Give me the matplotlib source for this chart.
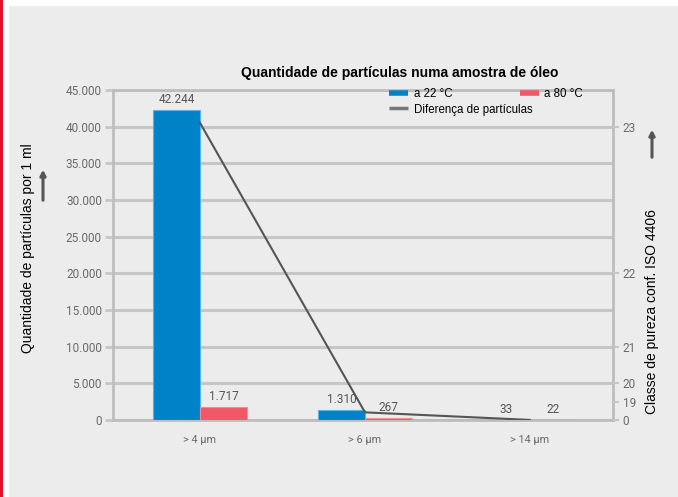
import matplotlib
matplotlib.use("Agg")
import matplotlib.pyplot as plt
from matplotlib.lines import Line2D
from matplotlib.patches import Rectangle, FancyArrowPatch

# Data
categories = ["> 4 µm", "> 6 µm", "> 14 µm"]
at_22 = [42244, 1310, 33]
at_80 = [1717, 267, 22]
difference = [a - b for a, b in zip(at_22, at_80)]

left_ticks = list(range(0, 45001, 5000))
iso_positions = [0, 2500, 5000, 10000, 20000, 40000]
iso_labels = ["0", "19", "20", "21", "22", "23"]

BLUE = "#0082c8"
RED = "#f05868"
LINE = "#555555"
GRID = "#c6c6c6"
TICKTXT = "#6a6a6a"

W, H = 678, 497
fig = plt.figure(figsize=(W / 100, H / 100), dpi=100)
fig.patch.set_facecolor("white")

# panel background and red edge
fig.add_artist(Rectangle((9 / W, 0), 1 - 9 / W, 1 - 6 / H, transform=fig.transFigure,
                         facecolor="#ececec", edgecolor="none", zorder=-10))
fig.add_artist(Rectangle((0, 0), 2.5 / W, 1, transform=fig.transFigure,
                         facecolor="#e3122c", edgecolor="none", zorder=-9))

ax_l, ax_r, ax_t, ax_b = 113, 613, 90, 420
ax = fig.add_axes([ax_l / W, 1 - ax_b / H, (ax_r - ax_l) / W, (ax_b - ax_t) / H])
ax.set_facecolor("none")

def fmt(v):
    return f"{v:,}".replace(",", ".")

x = list(range(len(categories)))
w = 0.285
bars22 = ax.bar([i - w / 2 for i in x], at_22, width=w, color=BLUE,
                edgecolor="#5bb4e8", linewidth=0.8, zorder=3)
bars80 = ax.bar([i + w / 2 for i in x], at_80, width=w, color=RED,
                edgecolor="#f48a96", linewidth=0.8, zorder=3)
ax.plot(x, difference, color=LINE, lw=1.5, zorder=4)

label_font = dict(family="Roboto", fontsize=8.5, color="#555555")
for bars, vals in ((bars22, at_22), (bars80, at_80)):
    for b, v in zip(bars, vals):
        ax.annotate(fmt(v), (b.get_x() + b.get_width() / 2, v),
                    xytext=(0, 3), textcoords="offset points",
                    ha="center", va="bottom", **label_font)

ax.set_xlim(-0.527, 2.503)
ax.set_ylim(0, 45000)
ax.set_yticks(left_ticks)
ax.set_yticklabels([fmt(t) for t in left_ticks], family="Roboto", fontsize=8.5,
                   color=TICKTXT)
ax.set_xticks(x)
ax.set_xticklabels(categories, family="Roboto", fontsize=7.8, color=TICKTXT)
ax.tick_params(axis="x", length=0, pad=11)
ax.tick_params(axis="y", length=6, width=2, color=GRID, pad=2, right=True)
ax.yaxis.grid(True, color=GRID, lw=2.2, zorder=0)
ax.set_axisbelow(True)
for side in ("left", "right", "top", "bottom"):
    ax.spines[side].set_color("#bdbdbd")
    ax.spines[side].set_linewidth(2)

# ISO 4406 class axis
ax2 = ax.twinx()
ax2.set_ylim(0, 45000)
ax2.set_yticks(iso_positions)
ax2.set_yticklabels(iso_labels, family="Roboto", fontsize=8.5, color=TICKTXT)
ax2.tick_params(axis="y", length=4, width=1.5, color=GRID, pad=3)
for side in ("left", "right", "top", "bottom"):
    ax2.spines[side].set_visible(False)

# legends
leg_font = dict(family="Liberation Sans", size=8.3)
h22 = Line2D([], [], color=BLUE, lw=4, solid_capstyle="butt")
h80 = Line2D([], [], color=RED, lw=4, solid_capstyle="butt")
hdiff = Line2D([], [], color="#777777", lw=2.5, solid_capstyle="butt")
leg1 = ax.legend([h22, h80], ["a 22 °C", "a 80 °C"], ncol=2, loc="upper left",
                 bbox_to_anchor=(0.548, 1.012), frameon=False, prop=leg_font,
                 handlelength=1.6, handletextpad=0.5, columnspacing=5.9,
                 borderaxespad=0, borderpad=0.2)
ax.add_artist(leg1)
ax.legend([hdiff], ["Diferença de partículas"], loc="upper left",
          bbox_to_anchor=(0.548, 0.966), frameon=False, prop=leg_font,
          handlelength=1.6, handletextpad=0.5, borderaxespad=0, borderpad=0.2)

# title and axis labels
fig.text(400 / W, 1 - 73 / H, "Quantidade de partículas numa amostra de óleo",
         ha="center", va="center", family="Liberation Sans", fontsize=10,
         fontweight="bold", color="black")
fig.text(28 / W, 1 - 248 / H, "Quantidade de partículas por 1 ml", rotation=90,
         ha="center", va="center", family="Liberation Sans", fontsize=10)
fig.text(652 / W, 1 - 312 / H, "Classe de pureza conf. ISO 4406", rotation=90,
         ha="center", va="center", family="Liberation Sans", fontsize=10)

# up arrows beside the axis labels
for ax_x, tail, head in ((43, 203, 167), (652, 160, 127)):
    fig.add_artist(FancyArrowPatch(
        (ax_x / W, 1 - tail / H), (ax_x / W, 1 - head / H),
        transform=fig.transFigure, arrowstyle="-|>,head_length=3,head_width=1.6",
        color="#555555", lw=2.2, mutation_scale=1))

fig.savefig("out.png", dpi=100)
